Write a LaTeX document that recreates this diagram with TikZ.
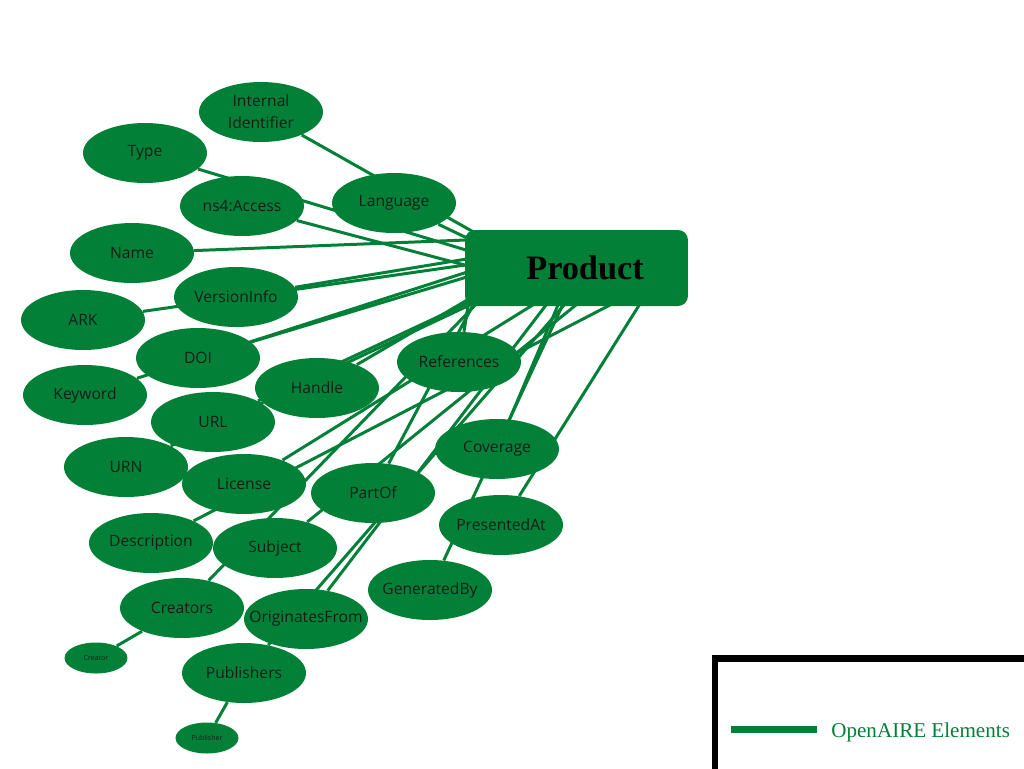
\documentclass[tikz,border=0pt]{standalone}
\usepackage{fontspec}
\setmainfont{Liberation Serif}
\newfontfamily\attrfont{Open Sans}
\usetikzlibrary{shapes.geometric, calc, backgrounds}
\definecolor{oagreen}{RGB}{2,128,56}
\definecolor{inktext}{RGB}{20,30,24}

\tikzset{
  attr/.style={ellipse, fill=oagreen, minimum width=2.48cm, minimum height=1.2cm, inner xsep=-0.3cm,
    inner ysep=0pt, text=inktext, align=center, font=\attrfont\fontsize{8.9}{12.5}\selectfont},
  subattr/.style={attr, minimum width=1.26cm, minimum height=0.62cm, inner xsep=0pt,
    font=\attrfont\fontsize{4}{5}\selectfont},
  link/.style={draw=oagreen, line width=1.7pt},
  entity/.style={rectangle, rounded corners=0.2cm, fill=oagreen, minimum width=4.46cm,
    minimum height=1.52cm, inner sep=0pt, text=black, font=\bfseries\fontsize{19.5}{22}\selectfont}
}

\begin{document}
\begin{tikzpicture}[x=0.02cm, y=-0.02cm]
    \useasboundingbox (0,0) rectangle (1024,768);

    % Entidad central
    \node[entity] (prod) at (576.5,268) {\hspace*{0.34cm}Product};

    % Atributos
    \node[attr] (intid) at (261,112) {Internal\\Identifier};
    \node[attr] (type) at (145,153) {Type};
    \node[attr] (access) at (242,206) {ns4:Access};
    \node[attr] (lang) at (394,203) {Language};
    \node[attr] (name) at (132,253) {Name};
    \node[attr] (version) at (236,297) {VersionInfo};
    \node[attr] (ark) at (83,320) {ARK};
    \node[attr] (doi) at (198,358) {DOI};
    \node[attr] (keyword) at (85,395) {Keyword};
    \node[attr] (handle) at (317,388) {Handle};
    \node[attr] (refs) at (459,362) {References};
    \node[attr] (url) at (213,422) {URL};
    \node[attr] (urn) at (126,467) {URN};
    \node[attr] (license) at (244,484) {License};
    \node[attr] (coverage) at (497,449) {Coverage};
    \node[attr] (partof) at (373,493) {PartOf};
    \node[attr] (presented) at (501,525) {PresentedAt};
    \node[attr] (descr) at (151,543) {Description};
    \node[attr] (subject) at (275,548) {Subject};
    \node[attr] (genby) at (430,590) {GeneratedBy};
    \node[attr] (creators) at (182,608) {Creators};
    \node[attr] (origin) at (306,619) {OriginatesFrom};
    \node[attr] (publishers) at (244,673) {Publishers};
    \node[subattr] (creator) at (96,658) {Creator};
    \node[subattr] (publisher) at (207,738) {Publisher};

    % Conexiones (detras de los nodos)
    \begin{scope}[on background layer]
        \foreach \n/\d in {intid/3, lang/12, name/10, type/23, version/28, ark/34,
                access/38, keyword/40, doi/45, handle/66, url/70, urn/73}
            \draw[link] (\n) -- ($(prod.north west)+(10,\d)$);
        \foreach \n/\d in {refs/5, partof/13, creators/19, license/82, origin/88,
                coverage/97, genby/102, publishers/107, subject/122, descr/162, presented/180}
            \draw[link] (\n) -- ($(prod.south west)+(\d,-10)$);
        \draw[link] (creator) -- (creators);
        \draw[link] (publisher) -- (publishers);
    \end{scope}

    % Leyenda
    \draw[line width=0.13cm] (715,790) -- (715,658.5) -- (1040,658.5);
    \draw[oagreen, line width=0.14cm] (731,729.5) -- (817,729.5);
    \node[anchor=base west, inner sep=0pt, text=oagreen, font=\fontsize{12}{14}\selectfont] (legend) at (831,737) {OpenAIRE Elements};
\end{tikzpicture}
\end{document}
